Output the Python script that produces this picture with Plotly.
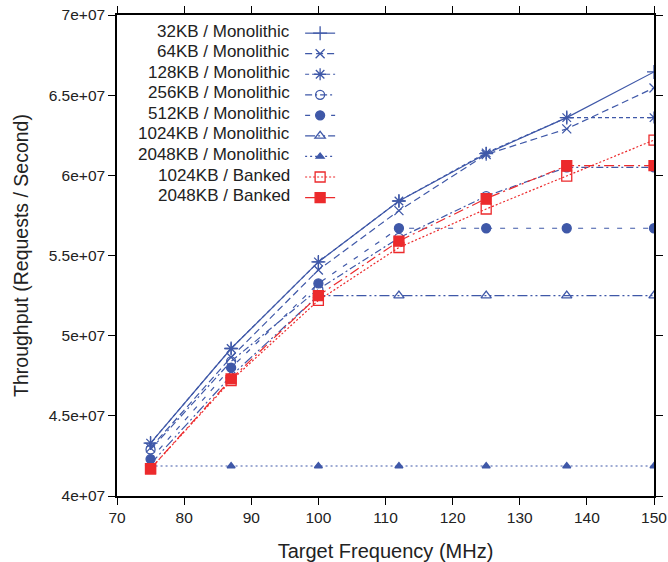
import plotly.graph_objects as go

freq = [75, 87, 100, 112, 125, 137, 150]

mono_32k = [43.3e6, 49.2e6, 54.6e6, 58.4e6, 61.35e6, 63.6e6, 66.45e6]
mono_64k = [43.0e6, 48.65e6, 54.1e6, 57.8e6, 61.3e6, 62.9e6, 65.45e6]
mono_128k = [43.3e6, 49.2e6, 54.6e6, 58.4e6, 61.4e6, 63.6e6, 63.6e6]
mono_256k = [42.9e6, 48.4e6, 52.9e6, 56.1e6, 58.7e6, 60.5e6, 60.5e6]
mono_512k = [42.3e6, 48.0e6, 53.26e6, 56.7e6, 56.7e6, 56.7e6, 56.7e6]
mono_1024k = [42.0e6, 47.5e6, 52.5e6, 52.5e6, 52.5e6, 52.5e6, 52.5e6]
mono_2048k = [41.87e6] * 7
bank_1024k = [41.7e6, 47.2e6, 52.2e6, 55.5e6, 57.9e6, 59.95e6, 62.2e6]
bank_2048k = [41.7e6, 47.3e6, 52.5e6, 55.9e6, 58.55e6, 60.6e6, 60.6e6]

names = ["32KB / Monolithic", "64KB / Monolithic", "128KB / Monolithic",
         "256KB / Monolithic", "512KB / Monolithic", "1024KB / Monolithic",
         "2048KB / Monolithic", "1024KB / Banked", "2048KB / Banked"]

y_ticks = [40e6, 45e6, 50e6, 55e6, 60e6, 65e6, 70e6]
y_ticktext = ["4e+07", "4.5e+07", "5e+07", "5.5e+07", "6e+07", "6.5e+07", "7e+07"]
x_ticks = [70, 80, 90, 100, 110, 120, 130, 140, 150]

blue = "#3f58a8"
red = "#ec2a2c"

# (values, colour, dash, symbol, size)
styles = [
    (mono_32k, blue, "solid", "cross-thin-open", 10),
    (mono_64k, blue, "7px,4px", "x-thin-open", 9),
    (mono_128k, blue, "4px,3px", "asterisk-open", 10),
    (mono_256k, blue, "7px,3px,2px,3px", "circle-open", 9),
    (mono_512k, blue, "5px,8px", "circle", 9),
    (mono_1024k, blue, "10px,3px,2px,3px,2px,3px", "triangle-up-open", 9),
    (mono_2048k, blue, "2px,3px", "triangle-up", 7),
    (bank_1024k, red, "2px,2px", "square-open", 10),
    (bank_2048k, red, "10px,4px,2px,4px", "square", 10),
]

fig = go.Figure()

for nm, (vals, col, dash, sym, sz) in zip(names, styles):
    fig.add_trace(go.Scatter(
        x=freq, y=vals, name=" ", mode="lines+markers",
        line=dict(color=col, width=1.2, dash=dash),
        marker=dict(symbol=sym, size=sz, color=col,
                    line=dict(color=col, width=1.3)),
    ))

# legend text, right aligned to the left of the line samples (gnuplot style)
for i, nm in enumerate(names):
    fig.add_annotation(
        text=nm, xref="paper", yref="paper",
        x=0.326, y=0.9667 - i * 0.0428, xanchor="right", yanchor="middle",
        showarrow=False, font=dict(size=17, color="#222222"),
    )

fig.update_layout(
    width=668, height=562,
    margin=dict(l=117, r=14, t=15, b=66),
    paper_bgcolor="white", plot_bgcolor="white",
    font=dict(family="Liberation Sans, Arial, sans-serif", color="#222222", size=15.5),
    showlegend=True,
    legend=dict(x=0.341, y=0.994, xanchor="left", yanchor="top",
                bgcolor="rgba(0,0,0,0)", font=dict(size=13.5),
                itemwidth=30, tracegroupgap=0),
)

fig.update_xaxes(
    range=[70, 150], tickvals=x_ticks, showgrid=False, zeroline=False,
    showline=True, linecolor="black", linewidth=1.5, mirror="ticks",
    ticks="outside", ticklen=7, tickcolor="black", automargin=False,
    ticklabeloverflow="allow",
    title=dict(text="Target Frequency (MHz)", font=dict(size=20), standoff=20),
)
fig.update_yaxes(
    range=[40e6, 70e6], tickvals=y_ticks, ticktext=y_ticktext,
    showgrid=False, zeroline=False,
    showline=True, linecolor="black", linewidth=1.5, mirror="ticks",
    ticks="outside", ticklen=7, tickcolor="black", automargin=False,
    ticklabeloverflow="allow",
    title=dict(text="Throughput (Requests / Second)", font=dict(size=19.5)),
)

# drop the default 8px body margin so the figure fills the window exactly
fig.write_html("out.html", config={"displayModeBar": False},
               post_script="document.body.style.margin='0px';")
